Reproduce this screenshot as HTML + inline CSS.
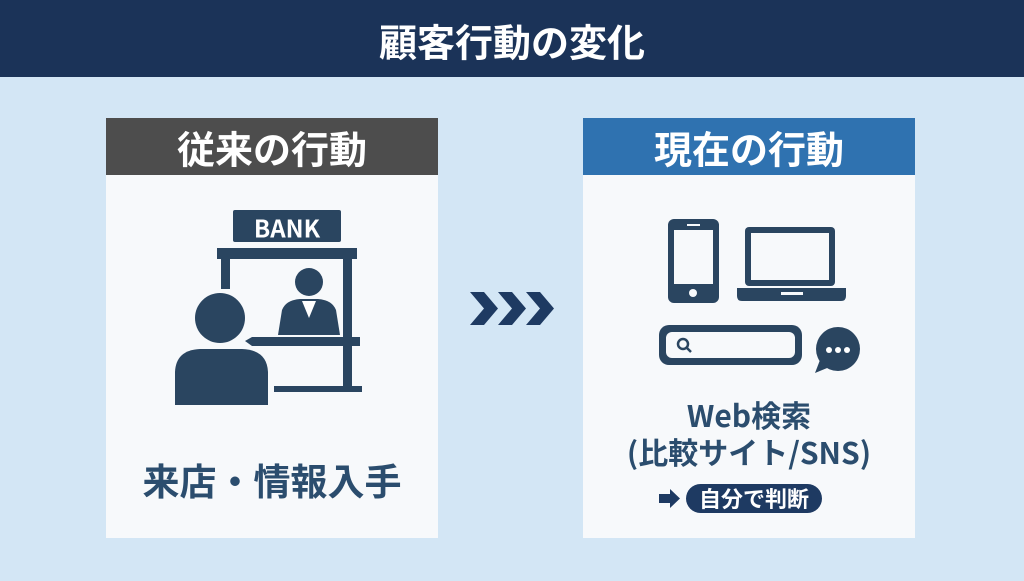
<!DOCTYPE html>
<html><head><meta charset="utf-8"><style>
body{margin:0;width:1024px;height:576px;overflow:hidden;background:#d3e6f5}
text{font-family:"Noto Sans CJK JP","Liberation Sans",sans-serif;font-weight:bold}
</style></head><body>
<svg width="1024" height="576" viewBox="0 0 1024 576" xmlns="http://www.w3.org/2000/svg">
<rect width="1024" height="576" fill="#d3e6f5"/>
<rect width="1024" height="77" fill="#1b3358"/>
<text x="512" y="40" font-size="38" fill="#fff" text-anchor="middle" dominant-baseline="central">顧客行動の変化</text>
<!-- left card -->
<rect x="106" y="118" width="332" height="420" fill="#f7f9fb"/>
<rect x="106" y="118" width="332" height="57" fill="#4d4d4d"/>
<text x="272" y="147" font-size="38" fill="#fff" text-anchor="middle" dominant-baseline="central">従来の行動</text>
<g fill="#2a4560">
<rect x="233" y="210" width="108" height="32" rx="2"/>
<text x="287" y="227" font-size="24" fill="#fff" text-anchor="middle" dominant-baseline="central">BANK</text>
<rect x="217" y="248" width="140" height="11"/>
<rect x="221" y="259" width="9" height="30"/>
<rect x="343" y="259" width="9" height="131"/>
<polygon points="245,341 252,337 360,337 360,346 252,346"/>
<rect x="274" y="386" width="88" height="6"/>
<circle cx="309" cy="282" r="14"/>
<path d="M278 335 L282 310 Q286 300 300 299 L318 299 Q332 300 336 310 L340 335 Z"/>
<circle cx="220" cy="318" r="25"/>
<path d="M175 405 L175 372 Q176 350 200 349 L242 349 Q267 350 268 372 L268 405 Z"/>
</g>
<path d="M302 301 L309 318 L316 301" fill="#fff"/>
<text x="272" y="479" font-size="37" fill="#2b4d6e" text-anchor="middle" dominant-baseline="central">来店・情報入手</text>
<!-- chevrons -->
<g fill="#1e3a62">
<polygon points="470,292 484,292 498,308.5 484,325 470,325 484,308.5"/>
<polygon points="498,292 512,292 526,308.5 512,325 498,325 512,308.5"/>
<polygon points="526,292 540,292 554,308.5 540,325 526,325 540,308.5"/>
</g>
<!-- right card -->
<rect x="583" y="118" width="332" height="420" fill="#f7f9fb"/>
<rect x="583" y="118" width="332" height="57" fill="#2f72b0"/>
<text x="749" y="147" font-size="38" fill="#fff" text-anchor="middle" dominant-baseline="central">現在の行動</text>
<g fill="#2a4560">
<rect x="668" y="219" width="51" height="84" rx="6"/>
<rect x="745" y="227" width="90" height="59" rx="4"/>
<path d="M737 288 L846 288 L846 296 Q846 301 841 301 L742 301 Q737 301 737 296 Z"/>
<rect x="659" y="325" width="143" height="40" rx="10"/>
<circle cx="838" cy="349" r="22"/>
<polygon points="820,360 815,373 832,366"/>
</g>
<rect x="674" y="230" width="39" height="54" fill="#f7f9fb"/>
<rect x="687" y="224" width="13" height="2" fill="#f7f9fb"/>
<circle cx="693" cy="293" r="4" fill="#f7f9fb"/>
<rect x="751" y="233" width="78" height="47" fill="#f7f9fb"/>
<rect x="781" y="292" width="22" height="3" fill="#f7f9fb"/>
<rect x="666" y="332" width="129" height="26" rx="6" fill="#f7f9fb"/>
<circle cx="683" cy="344" r="5" fill="none" stroke="#2a4560" stroke-width="2.5"/>
<line x1="687" y1="348" x2="691" y2="352" stroke="#2a4560" stroke-width="2.5"/>
<circle cx="829" cy="350" r="3" fill="#fff"/><circle cx="838" cy="350" r="3" fill="#fff"/><circle cx="847" cy="350" r="3" fill="#fff"/>
<text x="749" y="414" font-size="30" fill="#2b4d6e" text-anchor="middle" dominant-baseline="central">Web検索</text>
<text x="749" y="451" font-size="30" fill="#2b4d6e" text-anchor="middle" dominant-baseline="central">(比較サイト/SNS)</text>
<polygon points="659,494 670,494 670,489 680,498.5 670,508 670,503 659,503" fill="#1e3a62"/>
<rect x="686" y="484" width="136" height="29" rx="14.5" fill="#1e3a62"/>
<text x="754" y="498" font-size="22" fill="#fff" text-anchor="middle" dominant-baseline="central">自分で判断</text>
</svg>
</body></html>
